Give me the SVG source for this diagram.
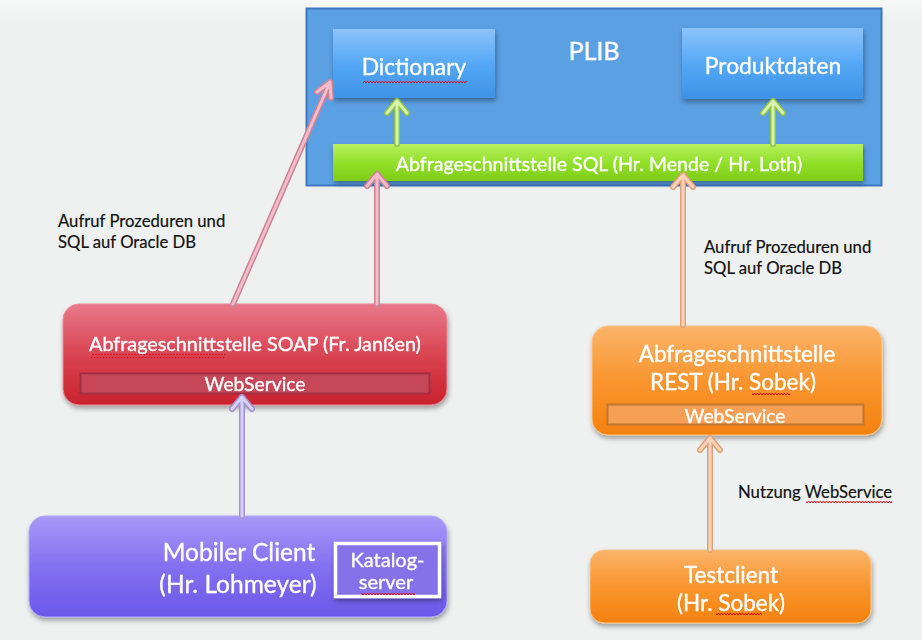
<svg xmlns="http://www.w3.org/2000/svg" width="922" height="640" viewBox="0 0 922 640">
  <defs>
    <linearGradient id="bg" x1="0" y1="0" x2="0" y2="1">
      <stop offset="0" stop-color="#f7f8f8"/>
      <stop offset="0.03" stop-color="#eef1f0"/>
      <stop offset="1" stop-color="#eef1f0"/>
    </linearGradient>
    <linearGradient id="gBlue" x1="0" y1="0" x2="0" y2="1">
      <stop offset="0" stop-color="#8cc3fb"/>
      <stop offset="0.5" stop-color="#55a8f6"/>
      <stop offset="1" stop-color="#3e92e6"/>
    </linearGradient>
    <linearGradient id="gGreen" x1="0" y1="0" x2="0" y2="1">
      <stop offset="0" stop-color="#b8f060"/>
      <stop offset="0.5" stop-color="#92e02a"/>
      <stop offset="1" stop-color="#7fcc18"/>
    </linearGradient>
    <linearGradient id="gRed" x1="0" y1="0" x2="0" y2="1">
      <stop offset="0" stop-color="#e8798a"/>
      <stop offset="0.5" stop-color="#d94452"/>
      <stop offset="1" stop-color="#c9222c"/>
    </linearGradient>
    <linearGradient id="gOrange" x1="0" y1="0" x2="0" y2="1">
      <stop offset="0" stop-color="#fbb46a"/>
      <stop offset="0.5" stop-color="#f9952f"/>
      <stop offset="1" stop-color="#f4820f"/>
    </linearGradient>
    <linearGradient id="gViolet" x1="0" y1="0" x2="0" y2="1">
      <stop offset="0" stop-color="#a898f7"/>
      <stop offset="0.5" stop-color="#8470f0"/>
      <stop offset="1" stop-color="#6d57ea"/>
    </linearGradient>
    <filter id="shadow" x="-10%" y="-10%" width="120%" height="130%">
      <feDropShadow dx="1" dy="3" stdDeviation="2.5" flood-color="#000" flood-opacity="0.35"/>
    </filter>
    <pattern id="squiggle" width="6" height="4" patternUnits="userSpaceOnUse">
      <path d="M0 3 L1.5 1 L3 3 L4.5 1 L6 3" fill="none" stroke="#e0101a" stroke-width="1"/>
    </pattern>
  </defs>
  <style>
    .lbl { font-family: Lato, "Open Sans", "Liberation Sans", sans-serif; }
    .w { fill: #ffffff; stroke: #ffffff; stroke-width: 0.35px; }
    .note { fill: #111111; font-size: 16.7px; stroke: #111111; stroke-width: 0.2px; }
    .spell { fill: url(#squiggle); }
  </style>

  <rect width="922" height="640" fill="url(#bg)"/>

  <!-- PLIB container -->
  <g id="plib">
    <rect x="306.5" y="8.5" width="575" height="177" fill="#5ba0e3" stroke="#3c78c0" stroke-width="2"/>
    <text class="lbl w" x="594" y="60" font-size="25" text-anchor="middle">PLIB</text>
  </g>

  <g id="dictionary" filter="url(#shadow)">
    <rect x="333" y="29" width="162" height="69" fill="url(#gBlue)"/>
    <text class="lbl w" x="414" y="75" font-size="22.8" text-anchor="middle">Dictionary</text>
    <rect class="spell" x="363" y="79" width="104" height="4"/>
  </g>

  <g id="produktdaten" filter="url(#shadow)">
    <rect x="682" y="28" width="181" height="71" fill="url(#gBlue)"/>
    <text class="lbl w" x="773" y="74" font-size="22.8" text-anchor="middle">Produktdaten</text>
  </g>

  <g id="sql" filter="url(#shadow)">
    <rect x="333" y="144" width="530" height="37" fill="url(#gGreen)"/>
    <text class="lbl w" x="599" y="171" font-size="19.6" text-anchor="middle">Abfrageschnittstelle SQL (Hr. Mende / Hr. Loth)</text>
  </g>

  <!-- SOAP interface -->
  <g id="soap" filter="url(#shadow)">
    <rect x="63" y="304" width="384" height="101" rx="16" fill="url(#gRed)" stroke="#e88a98" stroke-width="1"/>
    <text class="lbl w" x="255" y="351" font-size="19.8" text-anchor="middle">Abfrageschnittstelle SOAP (Fr. Janßen)</text>
    <rect class="spell" x="91" y="354" width="134" height="4"/>
    <rect x="80.5" y="373.5" width="349" height="20" fill="#c64658" stroke="#a32f42" stroke-width="2"/>
    <text class="lbl w" x="255" y="391" font-size="19.3" text-anchor="middle">WebService</text>
  </g>

  <!-- REST interface -->
  <g id="rest" filter="url(#shadow)">
    <rect x="592" y="326" width="290" height="109" rx="16" fill="url(#gOrange)" stroke="#fcc48a" stroke-width="1"/>
    <text class="lbl w" x="737" y="362" font-size="22.5" text-anchor="middle">Abfrageschnittstelle</text>
    <text class="lbl w" x="733" y="390" font-size="22.5" text-anchor="middle">REST (Hr. Sobek)</text>
    <rect class="spell" x="752" y="393" width="38" height="4"/>
    <rect x="607.5" y="404.5" width="256" height="20" fill="#f6a054" stroke="#c07530" stroke-width="2"/>
    <text class="lbl w" x="735" y="423" font-size="19.3" text-anchor="middle">WebService</text>
  </g>

  <!-- Mobile client -->
  <g id="mobiler-client" filter="url(#shadow)">
    <rect x="29" y="516" width="418" height="101" rx="16" fill="url(#gViolet)" stroke="#b3a6f8" stroke-width="1"/>
    <text class="lbl w" x="239" y="561" font-size="24.5" text-anchor="middle">Mobiler Client</text>
    <text class="lbl w" x="238" y="593" font-size="24.5" text-anchor="middle">(Hr. Lohmeyer)</text>
  </g>
  <g id="katalogserver" filter="url(#shadow)">
    <rect x="335.5" y="543.5" width="104" height="53" fill="#8672e8" stroke="#ffffff" stroke-width="3.5"/>
    <text class="lbl w" x="387.5" y="567" font-size="20" text-anchor="middle">Katalog-</text>
    <text class="lbl w" x="386" y="589" font-size="20" text-anchor="middle">server</text>
    <rect class="spell" x="361" y="592" width="54" height="4"/>
  </g>

  <!-- Test client -->
  <g id="testclient" filter="url(#shadow)">
    <rect x="590" y="550" width="281" height="73" rx="14" fill="url(#gOrange)" stroke="#fcc48a" stroke-width="1"/>
    <text class="lbl w" x="731" y="583" font-size="22.5" text-anchor="middle">Testclient</text>
    <text class="lbl w" x="731" y="611" font-size="22.5" text-anchor="middle">(Hr. Sobek)</text>
    <rect class="spell" x="716" y="613" width="46" height="4"/>
  </g>

  <!-- Connectors: outline stroke underneath, light fill stroke on top -->
  <g id="connectors" fill="none" stroke-linecap="round" stroke-linejoin="round">
    <!-- SQL layer to Dictionary / Produktdaten -->
    <path d="M397 144 V101 M387 113 L397 101 L407 113" stroke="#8fbf50" stroke-width="6"/>
    <path d="M397 144 V101 M387 113 L397 101 L407 113" stroke="#d6f5a8" stroke-width="3"/>
    <path d="M773 144 V101 M763 113 L773 101 L783 113" stroke="#8fbf50" stroke-width="6"/>
    <path d="M773 144 V101 M763 113 L773 101 L783 113" stroke="#d6f5a8" stroke-width="3"/>

    <!-- SOAP to Dictionary and SQL -->
    <path d="M233 304 L330 82 M317 92 L330 82 L331 98" stroke="#c98497" stroke-width="6"/>
    <path d="M233 304 L330 82 M317 92 L330 82 L331 98" stroke="#f3bccb" stroke-width="3"/>
    <path d="M377 304 V174 M367 186 L377 174 L387 186" stroke="#c98497" stroke-width="6"/>
    <path d="M377 304 V174 M367 186 L377 174 L387 186" stroke="#f3bccb" stroke-width="3"/>

    <!-- REST to SQL -->
    <path d="M683 325 V175 M673 187 L683 175 L693 187" stroke="#e0a07a" stroke-width="6"/>
    <path d="M683 325 V175 M673 187 L683 175 L693 187" stroke="#fcd3b8" stroke-width="3"/>

    <!-- Mobile client to SOAP -->
    <path d="M242 516 V397 M232 409 L242 397 L252 409" stroke="#9f92cf" stroke-width="6"/>
    <path d="M242 516 V397 M232 409 L242 397 L252 409" stroke="#d8d0f6" stroke-width="3"/>

    <!-- Test client to REST -->
    <path d="M710 550 V438 M700 450 L710 438 L720 450" stroke="#e0a07a" stroke-width="6"/>
    <path d="M710 550 V438 M700 450 L710 438 L720 450" stroke="#fcd3b8" stroke-width="3"/>
  </g>

  <!-- Annotations -->
  <g id="notes">
    <text class="lbl note" x="58" y="227">Aufruf Prozeduren und</text>
    <text class="lbl note" x="58" y="248">SQL auf Oracle DB</text>
    <text class="lbl note" x="704" y="253">Aufruf Prozeduren und</text>
    <text class="lbl note" x="704" y="274">SQL auf Oracle DB</text>
    <text class="lbl note" x="738" y="498">Nutzung WebService</text>
    <rect class="spell" x="806" y="500" width="86" height="4"/>
  </g>
</svg>
